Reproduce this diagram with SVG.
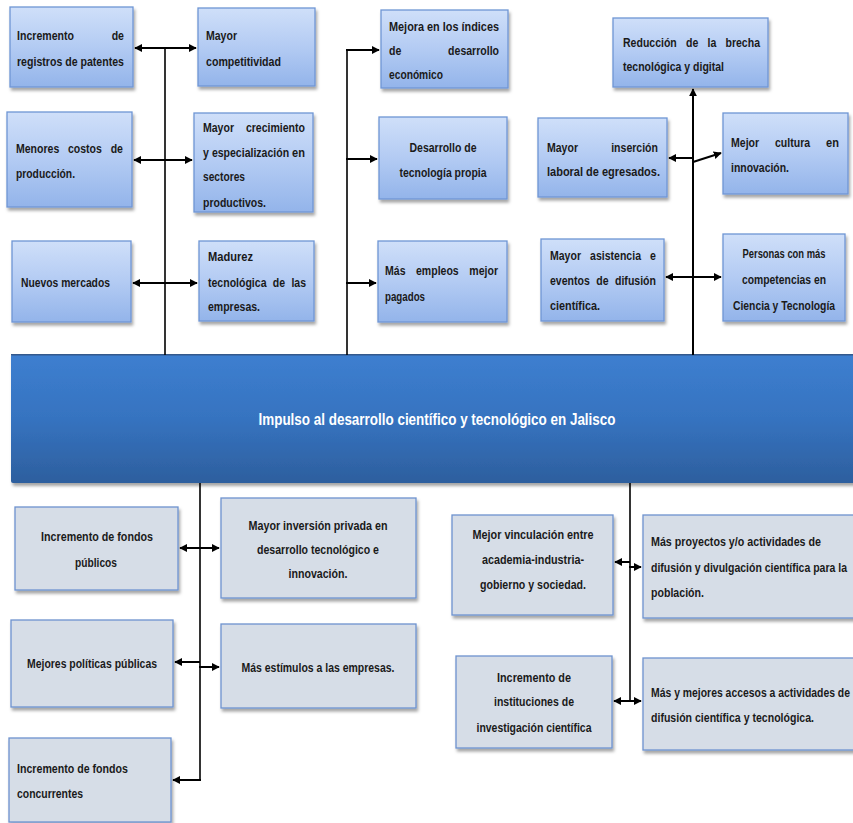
<svg xmlns="http://www.w3.org/2000/svg" width="853" height="823" viewBox="0 0 853 823">
<defs>
<linearGradient id="gTop" x1="0" y1="0" x2="0" y2="1">
<stop offset="0" stop-color="#cfdff9"/>
<stop offset="0.5" stop-color="#b3cbf3"/>
<stop offset="1" stop-color="#93b4ea"/>
</linearGradient>
<linearGradient id="gBar" x1="0" y1="0" x2="0" y2="1">
<stop offset="0" stop-color="#3d7fd0"/>
<stop offset="0.5" stop-color="#3673c0"/>
<stop offset="1" stop-color="#2d5f9e"/>
</linearGradient>
<filter id="sh" x="-10%" y="-10%" width="130%" height="140%">
<feDropShadow dx="1.5" dy="3" stdDeviation="1.8" flood-color="#000" flood-opacity="0.35"/>
</filter>
<marker id="ah" viewBox="0 0 10 10" refX="9" refY="5" markerWidth="4" markerHeight="4" orient="auto-start-reverse" markerUnits="strokeWidth">
<path d="M0,0 L10,5 L0,10 z" fill="#000"/>
</marker>
<style>
.tb{fill:url(#gTop);stroke:#6f96d4;stroke-width:1.3;filter:url(#sh)}
.bb{fill:#d6dde7;stroke:#6e93cf;stroke-width:1.3;filter:url(#sh)}
.t{font-family:"Liberation Sans",Arial,sans-serif;font-weight:bold;font-size:13.5px;fill:#1a1a1a}
.c{text-anchor:middle}
.ln{stroke:#000;stroke-width:1.6;fill:none}
.ar{stroke:#000;stroke-width:2;fill:none;marker-end:url(#ah)}
.ar2{stroke:#000;stroke-width:2;fill:none;marker-end:url(#ah);marker-start:url(#ah)}
</style>
</defs>
<rect width="853" height="823" fill="#fff"/>

<g id="bar">
<rect x="11" y="354" width="850" height="129" rx="2" fill="url(#gBar)" filter="url(#sh)"/>
<line x1="11" y1="354.8" x2="853" y2="354.8" stroke="#34598c" stroke-width="1.6"/>
<text x="437" y="425" class="t c" style="font-size:16px;fill:#fff" textLength="357" lengthAdjust="spacingAndGlyphs">Impulso al desarrollo científico y tecnológico en  Jalisco</text>
</g>

<g id="connectors">
<line class="ln" x1="165" y1="48" x2="165" y2="355"/>
<line class="ar2" x1="135" y1="48" x2="196" y2="48"/>
<line class="ar2" x1="134" y1="160" x2="192" y2="160"/>
<line class="ar2" x1="133" y1="283" x2="197" y2="283"/>

<line class="ln" x1="347" y1="50" x2="347" y2="355"/>
<line class="ar" x1="346" y1="50" x2="379" y2="50"/>
<line class="ar" x1="346" y1="159" x2="377" y2="159"/>
<line class="ar" x1="346" y1="283" x2="376" y2="283"/>

<line class="ar" x1="693" y1="355" x2="693" y2="89"/>
<line class="ar" x1="693" y1="158" x2="669" y2="158"/>
<line class="ar" x1="693" y1="162" x2="721" y2="153"/>
<line class="ar2" x1="666" y1="277" x2="721" y2="277"/>

<line class="ln" x1="200" y1="483" x2="200" y2="780"/>
<line class="ar2" x1="180" y1="548" x2="219" y2="548"/>
<line class="ar" x1="200" y1="662" x2="175" y2="662"/>
<line class="ar" x1="199" y1="667" x2="219" y2="667"/>
<line class="ar" x1="201" y1="780" x2="173" y2="780"/>

<line class="ln" x1="630" y1="483" x2="630" y2="701"/>
<line class="ar" x1="630" y1="562" x2="615" y2="562"/>
<line class="ar" x1="629" y1="567" x2="641" y2="567"/>
<line class="ar2" x1="614" y1="701" x2="641" y2="701"/>
</g>

<g id="n1">
<rect class="tb" x="10" y="7" width="123" height="80"/>
<text class="t" x="17" y="40" textLength="57" lengthAdjust="spacingAndGlyphs">Incremento</text>
<text class="t" x="111.7" y="40" textLength="12.3" lengthAdjust="spacingAndGlyphs">de</text>
<text class="t" x="17" y="66" textLength="107" lengthAdjust="spacingAndGlyphs">registros de patentes</text>
</g>
<g id="n2">
<rect class="tb" x="198" y="8" width="117" height="78"/>
<text class="t" x="206" y="40" textLength="31" lengthAdjust="spacingAndGlyphs">Mayor</text>
<text class="t" x="206" y="66" textLength="75" lengthAdjust="spacingAndGlyphs">competitividad</text>
</g>
<g id="n3">
<rect class="tb" x="7" y="112" width="125" height="95"/>
<text class="t" x="16" y="153" textLength="43.3" lengthAdjust="spacingAndGlyphs">Menores</text>
<text class="t" x="68" y="153" textLength="33.9" lengthAdjust="spacingAndGlyphs">costos</text>
<text class="t" x="110.7" y="153" textLength="12.3" lengthAdjust="spacingAndGlyphs">de</text>
<text class="t" x="16" y="178" textLength="59" lengthAdjust="spacingAndGlyphs">producción.</text>
</g>
<g id="n4">
<rect class="tb" x="194" y="113" width="119" height="99"/>
<text class="t" x="203" y="132" textLength="31" lengthAdjust="spacingAndGlyphs">Mayor</text>
<text class="t" x="245.9" y="132" textLength="59.1" lengthAdjust="spacingAndGlyphs">crecimiento</text>
<text class="t" x="203" y="157" textLength="5.9" lengthAdjust="spacingAndGlyphs">y</text>
<text class="t" x="211.9" y="157" textLength="77.2" lengthAdjust="spacingAndGlyphs">especialización</text>
<text class="t" x="292.1" y="157" textLength="12.9" lengthAdjust="spacingAndGlyphs">en</text>
<text class="t" x="203" y="181" textLength="42" lengthAdjust="spacingAndGlyphs">sectores</text>
<text class="t" x="203" y="207" textLength="63" lengthAdjust="spacingAndGlyphs">productivos.</text>
</g>
<g id="n5">
<rect class="tb" x="12" y="241" width="119" height="81"/>
<text class="t" x="21" y="287" textLength="89" lengthAdjust="spacingAndGlyphs">Nuevos mercados</text>
</g>
<g id="n6">
<rect class="tb" x="199" y="241" width="115" height="80"/>
<text class="t" x="208" y="261" textLength="45" lengthAdjust="spacingAndGlyphs">Madurez</text>
<text class="t" x="208" y="287" textLength="58.5" lengthAdjust="spacingAndGlyphs">tecnológica</text>
<text class="t" x="272.8" y="287" textLength="12.3" lengthAdjust="spacingAndGlyphs">de</text>
<text class="t" x="291.4" y="287" textLength="14.6" lengthAdjust="spacingAndGlyphs">las</text>
<text class="t" x="208" y="311" textLength="52" lengthAdjust="spacingAndGlyphs">empresas.</text>
</g>

<g id="n7">
<rect class="tb" x="381" y="10" width="127" height="78"/>
<text class="t" x="389" y="31" textLength="110" lengthAdjust="spacingAndGlyphs">Mejora en los índices</text>
<text class="t" x="389" y="55" textLength="12.3" lengthAdjust="spacingAndGlyphs">de</text>
<text class="t" x="448.1" y="55" textLength="50.9" lengthAdjust="spacingAndGlyphs">desarrollo</text>
<text class="t" x="389" y="79" textLength="54" lengthAdjust="spacingAndGlyphs">económico</text>
</g>
<g id="n8">
<rect class="tb" x="379" y="117" width="128" height="82"/>
<text class="t c" x="443" y="152" textLength="67" lengthAdjust="spacingAndGlyphs">Desarrollo de</text>
<text class="t c" x="443" y="177" textLength="87" lengthAdjust="spacingAndGlyphs">tecnología propia</text>
</g>
<g id="n9">
<rect class="tb" x="378" y="241" width="129" height="81"/>
<text class="t" x="385" y="275" textLength="20.5" lengthAdjust="spacingAndGlyphs">Más</text>
<text class="t" x="416" y="275" textLength="42.7" lengthAdjust="spacingAndGlyphs">empleos</text>
<text class="t" x="469.3" y="275" textLength="28.7" lengthAdjust="spacingAndGlyphs">mejor</text>
<text class="t" x="385" y="301" textLength="40" lengthAdjust="spacingAndGlyphs">pagados</text>
</g>

<g id="n10">
<rect class="tb" x="613" y="18" width="155" height="69"/>
<text class="t" x="623" y="47" textLength="53.8" lengthAdjust="spacingAndGlyphs">Reducción</text>
<text class="t" x="686" y="47" textLength="12.3" lengthAdjust="spacingAndGlyphs">de</text>
<text class="t" x="707.5" y="47" textLength="8.8" lengthAdjust="spacingAndGlyphs">la</text>
<text class="t" x="725.5" y="47" textLength="34.5" lengthAdjust="spacingAndGlyphs">brecha</text>
<text class="t" x="623" y="71" textLength="101" lengthAdjust="spacingAndGlyphs">tecnológica y digital</text>
</g>
<g id="n11">
<rect class="tb" x="538" y="118" width="129" height="79"/>
<text class="t" x="547" y="152" textLength="31" lengthAdjust="spacingAndGlyphs">Mayor</text>
<text class="t" x="611.2" y="152" textLength="46.8" lengthAdjust="spacingAndGlyphs">inserción</text>
<text class="t" x="547" y="176" textLength="113" lengthAdjust="spacingAndGlyphs">laboral de egresados.</text>
</g>
<g id="n12">
<rect class="tb" x="723" y="113" width="125" height="81"/>
<text class="t" x="731" y="147" textLength="28.1" lengthAdjust="spacingAndGlyphs">Mejor</text>
<text class="t" x="775" y="147" textLength="35.1" lengthAdjust="spacingAndGlyphs">cultura</text>
<text class="t" x="826.1" y="147" textLength="12.9" lengthAdjust="spacingAndGlyphs">en</text>
<text class="t" x="731" y="172" textLength="58" lengthAdjust="spacingAndGlyphs">innovación.</text>
</g>
<g id="n13">
<rect class="tb" x="541" y="239" width="123" height="82"/>
<text class="t" x="550" y="260" textLength="31" lengthAdjust="spacingAndGlyphs">Mayor</text>
<text class="t" x="590.1" y="260" textLength="50.9" lengthAdjust="spacingAndGlyphs">asistencia</text>
<text class="t" x="650.1" y="260" textLength="5.9" lengthAdjust="spacingAndGlyphs">e</text>
<text class="t" x="550" y="285" textLength="39.8" lengthAdjust="spacingAndGlyphs">eventos</text>
<text class="t" x="596.3" y="285" textLength="12.3" lengthAdjust="spacingAndGlyphs">de</text>
<text class="t" x="615" y="285" textLength="41" lengthAdjust="spacingAndGlyphs">difusión</text>
<text class="t" x="550" y="310" textLength="50" lengthAdjust="spacingAndGlyphs">científica.</text>
</g>
<g id="n14">
<rect class="tb" x="723" y="234" width="122" height="87"/>
<text class="t c" x="784" y="258" textLength="83" lengthAdjust="spacingAndGlyphs">Personas con más</text>
<text class="t c" x="784" y="284" textLength="84" lengthAdjust="spacingAndGlyphs">competencias en</text>
<text class="t c" x="784" y="310" textLength="102" lengthAdjust="spacingAndGlyphs">Ciencia y Tecnología</text>
</g>

<g id="n15">
<rect class="bb" x="15" y="507" width="163" height="83"/>
<text class="t c" x="97" y="541" textLength="112" lengthAdjust="spacingAndGlyphs">Incremento de fondos</text>
<text class="t c" x="96" y="567" textLength="42" lengthAdjust="spacingAndGlyphs">públicos</text>
</g>
<g id="n16">
<rect class="bb" x="221" y="498" width="195" height="100"/>
<text class="t c" x="318" y="530" textLength="139" lengthAdjust="spacingAndGlyphs">Mayor inversión privada en</text>
<text class="t c" x="318" y="554" textLength="122" lengthAdjust="spacingAndGlyphs">desarrollo tecnológico e</text>
<text class="t c" x="318" y="578" textLength="59" lengthAdjust="spacingAndGlyphs">innovación.</text>
</g>
<g id="n17">
<rect class="bb" x="11" y="620" width="162" height="87"/>
<text class="t c" x="92" y="668" textLength="130" lengthAdjust="spacingAndGlyphs">Mejores políticas públicas</text>
</g>
<g id="n18">
<rect class="bb" x="221" y="624" width="195" height="84"/>
<text class="t c" x="318" y="672" textLength="153" lengthAdjust="spacingAndGlyphs">Más estímulos a las empresas.</text>
</g>
<g id="n19">
<rect class="bb" x="9" y="738" width="162" height="84"/>
<text class="t" x="17" y="773" textLength="111" lengthAdjust="spacingAndGlyphs">Incremento de fondos</text>
<text class="t" x="17" y="798" textLength="66" lengthAdjust="spacingAndGlyphs">concurrentes</text>
</g>

<g id="n20">
<rect class="bb" x="452" y="515" width="161" height="100"/>
<text class="t c" x="533" y="539" textLength="121" lengthAdjust="spacingAndGlyphs">Mejor vinculación entre</text>
<text class="t c" x="533" y="564" textLength="102" lengthAdjust="spacingAndGlyphs">academia-industria-</text>
<text class="t c" x="533" y="589" textLength="106" lengthAdjust="spacingAndGlyphs">gobierno y sociedad.</text>
</g>
<g id="n21">
<rect class="bb" x="643" y="515" width="220" height="103"/>
<text class="t" x="651" y="546" textLength="170" lengthAdjust="spacingAndGlyphs">Más proyectos y/o actividades de</text>
<text class="t" x="651" y="572" textLength="196" lengthAdjust="spacingAndGlyphs">difusión y divulgación científica para la</text>
<text class="t" x="651" y="597" textLength="53" lengthAdjust="spacingAndGlyphs">población.</text>
</g>
<g id="n22">
<rect class="bb" x="456" y="656" width="156" height="92"/>
<text class="t c" x="534" y="682" textLength="74" lengthAdjust="spacingAndGlyphs">Incremento de</text>
<text class="t c" x="534" y="706" textLength="80" lengthAdjust="spacingAndGlyphs">instituciones de</text>
<text class="t c" x="534" y="732" textLength="115" lengthAdjust="spacingAndGlyphs">investigación científica</text>
</g>
<g id="n23">
<rect class="bb" x="643" y="658" width="220" height="92"/>
<text class="t" x="651" y="697" textLength="199" lengthAdjust="spacingAndGlyphs">Más y mejores accesos a actividades de</text>
<text class="t" x="651" y="722" textLength="163" lengthAdjust="spacingAndGlyphs">difusión científica y tecnológica.</text>
</g>
</svg>
